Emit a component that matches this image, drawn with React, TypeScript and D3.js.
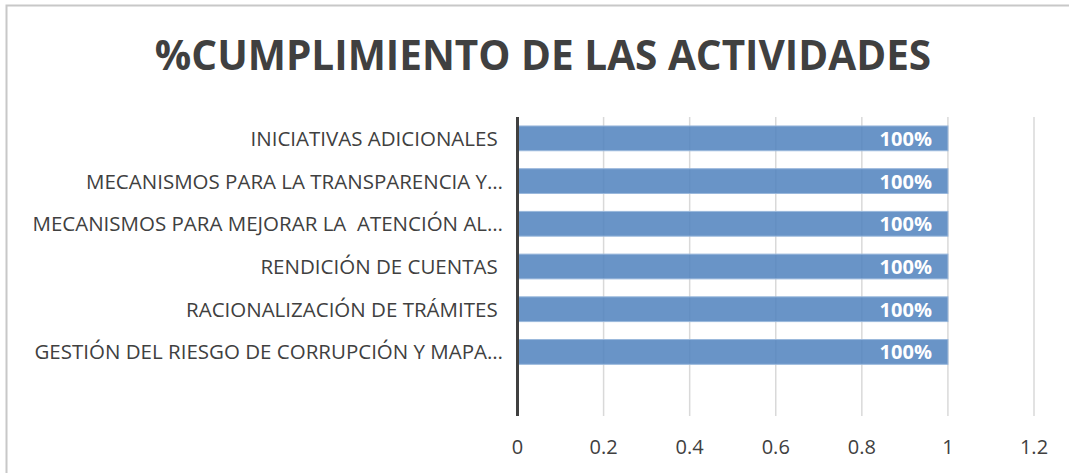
import React from "react";
import * as d3 from "d3";

const title = "%CUMPLIMIENTO DE LAS ACTIVIDADES";
const categories = [
  "INICIATIVAS ADICIONALES ",
  "MECANISMOS PARA LA TRANSPARENCIA Y…",
  "MECANISMOS PARA MEJORAR LA  ATENCIÓN AL…",
  "RENDICIÓN DE CUENTAS ",
  "RACIONALIZACIÓN DE TRÁMITES ",
  "GESTIÓN DEL RIESGO DE CORRUPCIÓN Y MAPA…",
  "",
];
const values: (number | null)[] = [1, 1, 1, 1, 1, 1, null];
const ticks = [0, 0.2, 0.4, 0.6, 0.8, 1, 1.2];

const W = 1069;
const H = 473;
const FONT = "'Open Sans', sans-serif";

export default function App() {
  const x = d3.scaleLinear().domain([0, 1.2]).range([517.5, 1034]);
  const y = d3
    .scaleBand<string>()
    .domain(categories.map((c, i) => String(i)))
    .range([117, 416])
    .paddingInner(0.42)
    .paddingOuter(0.21);
  const bw = y.bandwidth();
  return (
    <svg
      width={W}
      height={H}
      style={{ position: "absolute", left: 0, top: 0, display: "block", background: "#fff" }}
    >
      <rect x={6.5} y={5.5} width={W + 10} height={H + 10} fill="#fff" stroke="#c8c8c8" strokeWidth={2} />
      <text
        x={543}
        y={70}
        textAnchor="middle"
        fontFamily={FONT}
        fontWeight="bold"
        fontSize={40.5}
        fill="#404040"
      >
        {title}
      </text>
      {ticks.map((t) => (
        <g key={t}>
          {t !== 0 && (
            <line x1={x(t)} x2={x(t)} y1={117} y2={416} stroke="#d9d9d9" strokeWidth={1.5} />
          )}
          <text
            x={x(t)}
            y={454}
            textAnchor="middle"
            fontFamily={FONT}
            fontSize={20}
            fill="#404040"
          >
            {d3.format("~g")(t)}
          </text>
        </g>
      ))}
      {categories.map((c, i) => {
        const v = values[i];
        const yy = y(String(i))!;
        return (
          <g key={i}>
            {v != null && (
              <rect
                x={x(0)}
                y={yy}
                width={x(v) - x(0)}
                height={bw}
                fill="#4f81bd"
                fillOpacity={0.85}
                stroke="#9ab8dc"
                strokeWidth={1}
              />
            )}
            {v != null && (
              <text
                x={x(v) - 16}
                y={yy + bw / 2 + 7.5}
                textAnchor="end"
                fontFamily={FONT}
                fontWeight="bold"
                fontSize={20}
                fill="#ffffff"
              >
                {d3.format(".0%")(v)}
              </text>
            )}
            <text
              x={503}
              y={yy + bw / 2 + 7.5}
              textAnchor="end"
              fontFamily={FONT}
              fontSize={20.5}
              fill="#404040"
              style={{ whiteSpace: "pre" }}
            >
              {c}
            </text>
          </g>
        );
      })}
      <line x1={x(0)} x2={x(0)} y1={117} y2={416} stroke="#404040" strokeWidth={3} />
    </svg>
  );
}
